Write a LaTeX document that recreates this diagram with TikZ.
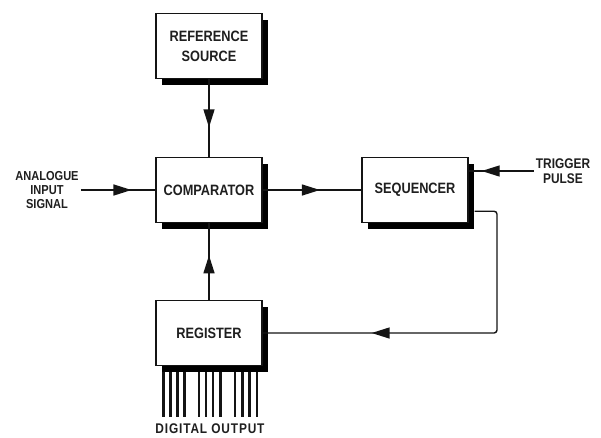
\documentclass[tikz,border=0pt]{standalone}
\usepackage{fontspec}
\setmainfont{Liberation Sans}[FakeStretch=0.85]
\usetikzlibrary{arrows.meta,decorations.markings,shadows}
\begin{document}
\begin{tikzpicture}[x=1pt,y=-1pt,
  ink/.style={draw=black!92, line width=1.4pt},
  blockbox/.style={draw=black!92, line width=1.4pt, fill=white,
    minimum width=106pt, minimum height=65pt, align=center,
    font=\fontsize{15}{20}\selectfont\bfseries, text=black!88,
    general shadow={fill=black, shadow xshift=6pt, shadow yshift=-6pt}},
  lbl/.style={align=center, text=black!88, inner sep=2pt,
    font=\fontsize{14}{15}\selectfont\bfseries},
  midarrow/.style={postaction={decorate}, decoration={markings,
    mark=at position #1 with {\arrow{Triangle[length=18pt,width=11pt]}}}},
  outline/.style={line width=2.4pt, draw=black!92}
]
\useasboundingbox[fill=white] (0,0) rectangle (601,437);

% digital output lines
\foreach \dx in {-45.5,-38.5,-31.5,-24.5,-10,-3,4,11.5,26,33.5,40.5,48}
  \draw[outline] ([xshift=\dx pt]209,365) -- ++(0,52);

\node[blockbox] (ref)  at (209,46)  {REFERENCE\\SOURCE};
\node[blockbox] (comp) at (209,190) {COMPARATOR};
\node[blockbox] (seq)  at (415,190) {SEQUENCER};
\node[blockbox] (reg)  at (209,333) {REGISTER};

\node[lbl, font=\fontsize{13}{14}\selectfont\bfseries] (ain) at (47,190) {ANALOGUE\\INPUT\\SIGNAL};
\node[lbl] (trig) at (563,171) {TRIGGER\\PULSE};
\node[lbl, font=\fontsize{14}{15}\selectfont\bfseries\addfontfeature{LetterSpace=6}] (dout) at (210,428.5) {DIGITAL OUTPUT};

\coordinate (fb) at (497,333);

\draw[ink, midarrow=0.62] (ref) -- (comp);
\draw[ink, midarrow=0.58] (comp) -- (seq);
\draw[ink, midarrow=0.58] (reg) -- (comp);
\draw[ink, midarrow=0.68] (ain.east) -- (comp.west);
\draw[ink, midarrow=0.8] (trig.west) -- (trig.west -| seq.east);
\draw[ink, rounded corners=3pt, midarrow=0.71]
  ([xshift=6pt,yshift=12pt]seq.south east) -| (fb) -- (reg.east);
\end{tikzpicture}
\end{document}
